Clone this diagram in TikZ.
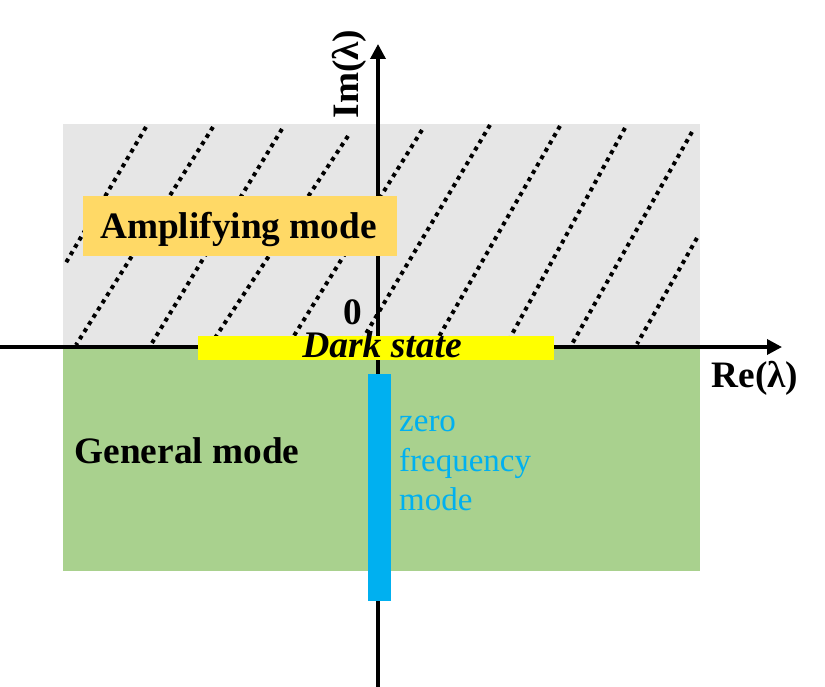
\documentclass[tikz,border=0pt]{standalone}
\usepackage{fontspec}
\setmainfont{Liberation Serif}
\usetikzlibrary{arrows.meta}
\definecolor{grayfill}{HTML}{E6E6E6}
\definecolor{greenfill}{HTML}{A9D18E}
\definecolor{goldfill}{HTML}{FFD966}
\definecolor{brightyellow}{HTML}{FFFF00}
\definecolor{cyanblue}{HTML}{00B0F0}
\begin{document}
\begin{tikzpicture}[x=1pt,y=-1pt,
  hatch/.style={line width=4pt,dash pattern=on 4pt off 4.5pt},
  axisline/.style={line width=3.5pt,-{Triangle[length=15pt,width=15pt]}},
  region/.style={inner sep=0pt,outer sep=0pt,draw=none},
  boldlabel/.style={font=\fontsize{37.3}{44}\selectfont\bfseries,inner sep=0pt},
  bluelabel/.style={font=\fontsize{33}{40}\selectfont,text=cyanblue,inner sep=0pt,anchor=base west}]
\useasboundingbox (0,0) rectangle (825,687);
% regions
\node[region,fill=grayfill,minimum width=637pt,minimum height=225pt,anchor=north west] (upper) at (63,124) {};
\node[region,fill=greenfill,minimum width=637pt,minimum height=222pt,anchor=north west] (lower) at (63,349) {};
% hatching
\foreach \xa/\ya/\xb/\yb in {146/127/64/266, 213/127/76/345, 282/129/152/343, 348/136/209/347,
  422/130/287/347, 490/125/358/347, 560/126/433/347, 625/128/505/347, 692/132/572/344, 697/238/637/344}
  \draw[hatch] (\xa,\ya) -- (\xb,\yb);
% axes
\coordinate (xstart) at (0,347);
\coordinate (xend) at (782,347);
\coordinate (ystart) at (378,687);
\coordinate (yend) at (378,44);
\draw[axisline] (xstart) -- (xend);
\draw[axisline] (ystart) -- (yend);
% boxes
\node[region,fill=goldfill,minimum width=314pt,minimum height=60pt] (amp) at (240,226) {};
\node[boldlabel,anchor=base] (amptext) at (238.5,239) {Amplifying mode};
\node[region,fill=brightyellow,minimum width=356pt,minimum height=24pt] (dark) at (376,348) {};
\node[boldlabel,font=\fontsize{37.5}{44}\selectfont\bfseries\itshape,anchor=base] (darktext) at (382,357) {Dark state};
\node[region,fill=cyanblue,minimum width=23pt,minimum height=227pt] (zerobar) at (379.5,487.5) {};
% labels
\node[bluelabel] (zero) at (399,431) {zero};
\node[bluelabel] (freq) at (399,471) {frequency};
\node[bluelabel] (zmode) at (399,510) {mode};
\node[boldlabel,anchor=base] (general) at (187,463) {General mode};
\node[boldlabel,anchor=base] (origin) at (352.5,324) {0};
\node[boldlabel,anchor=base] (relabel) at (755,387) {Re(λ)};
\node[boldlabel,anchor=base,rotate=90] (imlabel) at (358,74) {Im(λ)};
\end{tikzpicture}
\end{document}
